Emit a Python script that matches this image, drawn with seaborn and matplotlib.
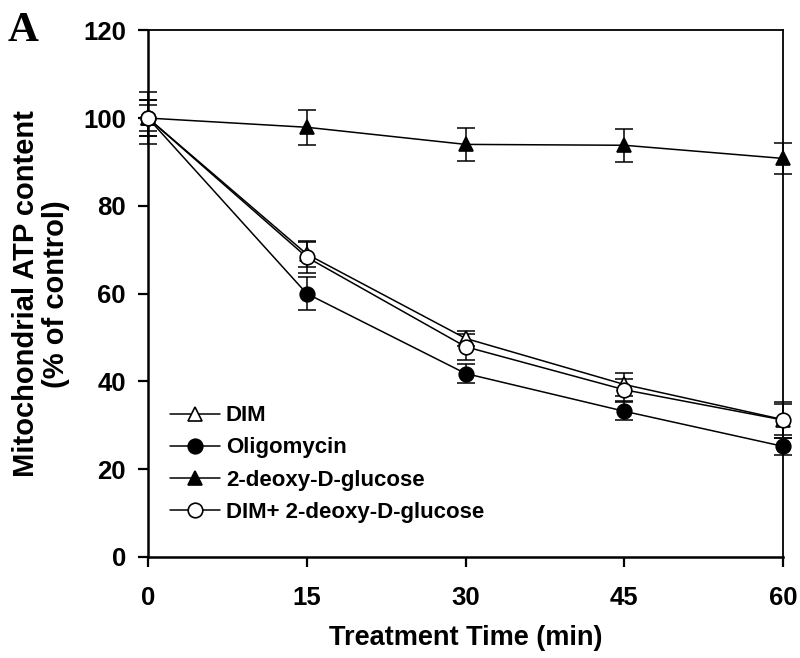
import numpy as np
import pandas as pd
import matplotlib
matplotlib.use("Agg")
import matplotlib.pyplot as plt
import seaborn as sns

# ---- data ----
time_min = [0, 15, 30, 45, 60]
series_names = ["DIM", "Oligomycin", "2-deoxy-D-glucose", "DIM+ 2-deoxy-D-glucose"]
dim_mean = [100, 69.0, 49.8, 39.3, 31.3]
dim_err = [6.0, 3.0, 1.8, 2.6, 3.5]
oligo_mean = [100, 60.0, 41.8, 33.2, 25.2]
oligo_err = [4.0, 3.7, 2.2, 2.0, 1.9]
dg_mean = [100, 97.9, 94.0, 93.8, 90.8]
dg_err = [4.0, 4.0, 3.7, 3.7, 3.6]
dimdg_mean = [100, 68.3, 47.9, 38.1, 31.2]
dimdg_err = [3.0, 3.5, 3.0, 2.5, 4.0]
x_ticks = [0, 15, 30, 45, 60]
y_ticks = [0, 20, 40, 60, 80, 100, 120]

means = [dim_mean, oligo_mean, dg_mean, dimdg_mean]
errs = [dim_err, oligo_err, dg_err, dimdg_err]

rows = []
for name, m, e in zip(series_names, means, errs):
    for t, v, s in zip(time_min, m, e):
        rows.append({"Treatment": name, "Time": t, "ATP": v, "SEM": s})
df = pd.DataFrame(rows)

sns.set_style("ticks")
plt.rcParams["font.family"] = ["Liberation Sans", "DejaVu Sans"]
plt.rcParams["font.weight"] = "bold"
plt.rcParams["axes.labelweight"] = "bold"
plt.rcParams["text.color"] = "black"
plt.rcParams["axes.labelcolor"] = "black"
plt.rcParams["xtick.color"] = "black"
plt.rcParams["ytick.color"] = "black"

fig = plt.figure(figsize=(8.0, 6.58), dpi=100)
ax = fig.add_axes([0.185, 0.1535, 0.979 - 0.185, 0.954 - 0.1535])

styles = {
    "DIM": dict(marker="^", mfc="white"),
    "Oligomycin": dict(marker="o", mfc="black"),
    "2-deoxy-D-glucose": dict(marker="^", mfc="black"),
    "DIM+ 2-deoxy-D-glucose": dict(marker="o", mfc="white"),
}

for i, name in enumerate(series_names):
    sub = df[df["Treatment"] == name]
    ax.errorbar(sub["Time"], sub["ATP"], yerr=sub["SEM"], fmt="none",
                ecolor="black", elinewidth=1.1, capsize=6.5, capthick=1.1,
                zorder=2 + i * 0.1, clip_on=False)
    st = styles[name]
    sns.lineplot(data=sub, x="Time", y="ATP", ax=ax, color="black",
                 marker=st["marker"], markersize=10.5,
                 markerfacecolor=st["mfc"], markeredgecolor="black",
                 markeredgewidth=1.2, linewidth=1.1, label=name,
                 errorbar=None, clip_on=False, zorder=3 + i * 0.1)

ax.set_xlim(0, 60)
ax.set_ylim(0, 120)
ax.set_xticks(x_ticks)
ax.set_yticks(y_ticks)
for sp in ax.spines.values():
    sp.set_linewidth(1.3)
    sp.set_color("black")
    sp.set_visible(True)
ax.spines["left"].set_linewidth(1.8)
ax.spines["bottom"].set_linewidth(1.8)

ax.tick_params(axis="both", direction="out", length=7, width=1.6,
               labelsize=18.5, colors="black")
ax.tick_params(axis="x", pad=14, top=False)
ax.tick_params(axis="y", pad=9, right=False)

ax.set_xlabel("Treatment Time (min)", fontsize=19.5, fontweight="bold",
              labelpad=11, color="black")
ax.set_ylabel("Mitochondrial ATP content\n(% of control)", fontsize=21,
              fontweight="bold", labelpad=9, linespacing=1.1, color="black")

leg = ax.legend(loc="upper left", bbox_to_anchor=(0.034, 0.288), frameon=False,
                prop={"weight": "bold", "size": 16}, handlelength=2.25,
                handletextpad=0.28, labelspacing=0.5, borderpad=0,
                borderaxespad=0)
for t in leg.get_texts():
    t.set_color("black")

fig.text(0.010, 0.982, "A", family=["Liberation Serif", "DejaVu Serif"],
         fontweight="bold", fontsize=31, va="top", ha="left", color="black")

fig.savefig("out.png", dpi=100)
